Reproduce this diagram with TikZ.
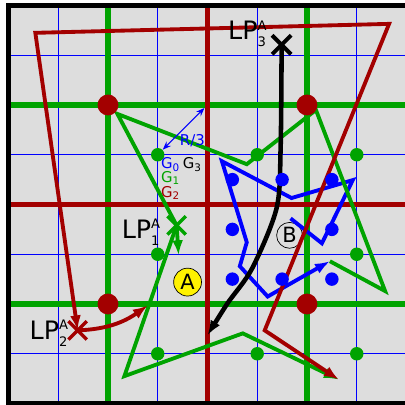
\documentclass[tikz,border=0pt]{standalone}
\usepackage{fontspec}
\setmainfont{DejaVu Sans}
\usetikzlibrary{arrows.meta}
\usetikzlibrary{shapes.misc}
\usetikzlibrary{positioning}
\usetikzlibrary{calc}
\definecolor{bggray}{RGB}{221,221,221}
\definecolor{lvlgreen}{RGB}{0,163,0}
\definecolor{lvlred}{RGB}{163,0,0}
\newcommand{\lpname}[1]{LP\rlap{\raisebox{5.4pt}{\fontsize{7.5}{7.5}\selectfont A}}\raisebox{-4pt}{\fontsize{7.5}{7.5}\selectfont #1}}
\tikzset{
    traj/.style={
        line width=2.2pt,
        >={Latex[length=3mm,width=2.2mm]}
    },
    mark_x/.style={
        cross out,
        draw,
        line width=2pt,
        minimum size=0.3cm,
        inner sep=0pt
    }
}

\begin{document}
\begin{tikzpicture}[
    grid_zero/.style={blue, line width=0.6pt},
    grid_one/.style={lvlgreen, line width=2.9pt},
    grid_two/.style={lvlred, line width=2.6pt},
    grid_three/.style={black, line width=2.9pt},
    dot_red/.style={circle, fill=lvlred, inner sep=0pt, minimum size=0.42cm},
    dot_green/.style={circle, fill=lvlgreen, inner sep=0pt, minimum size=0.27cm},
    dot_blue/.style={circle, fill=blue, inner sep=0pt, minimum size=0.27cm},
    lp_text/.style={anchor=base west, inner sep=0pt, font=\fontsize{14.5}{15}\selectfont},
    g_text/.style={anchor=base west, inner sep=0pt, font=\fontsize{8.5}{9}\selectfont}
]
    \useasboundingbox (-0.17,-0.03) rectangle (7.97,8.11);

    % Background and grids
    \fill[bggray] (0,0) rectangle (8,8);
    \foreach \i in {1,...,7} {
        \draw[grid_zero] (\i,0) -- (\i,8);
        \draw[grid_zero] (0,\i) -- (8,\i);
    }
    \foreach \i in {2,4,6} {
        \draw[grid_one] (\i,0) -- (\i,8);
        \draw[grid_one] (0,\i) -- (8,\i);
    }
    \draw[grid_two] (4,0) -- (4,8);
    \draw[grid_two] (0,4) -- (8,4);
    \draw[grid_three] (8,8) -- (0,8) -- (0,0) -- (8,0);

    % Labels of the particles
    \node (A) [circle, draw, fill=yellow, minimum size=0.56cm, inner sep=0pt,
        font=\fontsize{12}{12}\selectfont] at (3.6,2.44) {A};
    \node (B) [circle, draw, minimum size=0.52cm, inner sep=0pt,
        font=\fontsize{12}{12}\selectfont] at (5.65,3.38) {B};

    % Markers
    \node (LP1) [mark_x, draw=lvlgreen] at (3.38,3.58) {};
    \node (LP2) [mark_x, draw=lvlred] at (1.39,1.47) {};
    \node (LP3) [mark_x, draw=black, line width=2.3pt] at (5.49,7.21) {};

    % Blue path
    \coordinate (b1) at (5.67,3.72);
    \coordinate (b2) at (6.30,3.22);
    \coordinate (b3) at (6.92,4.49);
    \coordinate (b4) at (5.69,4.13);
    \coordinate (b5) at (4.29,4.87);
    \coordinate (b6) at (4.79,3.24);
    \coordinate (b7) at (4.65,2.76);
    \coordinate (b8) at (5.21,2.15);
    \coordinate (b9) at (6.46,2.86);
    \draw[traj, blue, ->] (b1) -- (b2) -- (b3) -- (b4) -- (b5) -- (b6) -- (b7) -- (b8) -- (b9);

    % Green path
    \coordinate (g2) at (7.57,2.26);
    \coordinate (g3) at (6.18,5.90);
    \coordinate (g4) at (4.79,4.81);
    \coordinate (g5) at (2.19,5.82);
    \coordinate (g6) at (2.33,0.55);
    \coordinate (g7) at (4.71,1.41);
    \coordinate (end) at (6.64,0.48);
    \coordinate (g_down) at (3.42,2.98);
    \draw[traj, lvlgreen, ->] (b9) -- (g2) -- (g3) -- (g4) -- (g5) -- (LP1.center) -- (g6) -- (g7) -- (end);
    \draw[traj, lvlgreen, ->] (LP1.center) -- (g_down);

    % Red path
    \coordinate (r1) at (0.54,7.45);
    \coordinate (r2) at (7.65,7.63);
    \coordinate (r3) at (5.15,1.47);
    \coordinate (r_tip) at (2.80,1.97);
    \draw[traj, lvlred, <->] (end) -- (r3) -- (r2) -- (r1) -- (LP2.center);
    \draw[traj, lvlred, ->] (LP2.center) to[out=2, in=215] (r_tip);

    % Black path
    \coordinate (k1) at (5.47,5.13);
    \coordinate (k2) at (5.39,3.93);
    \coordinate (k3) at (4.90,2.72);
    \coordinate (k4) at (4.40,2.01);
    \coordinate (k5) at (4.00,1.37);
    \draw[traj, black, line width=2.6pt, ->] plot[smooth] coordinates {(LP3.center) (k1) (k2) (k3) (k4) (k5)};

    % Cell centres
    \foreach \x/\y in {2/2, 6/2, 2/6, 6/6}
        \node (c2-\x-\y) [dot_red] at (\x,\y) {};
    \foreach \x/\y in {3/5, 5/5, 7/5, 3/3, 7/3, 3/1, 5/1, 7/1}
        \node (c1-\x-\y) [dot_green] at (\x,\y) {};
    \foreach \x/\y in {4.5/4.5, 5.5/4.5, 6.5/4.5, 4.5/3.5, 6.5/3.5, 4.5/2.5, 5.5/2.5, 6.5/2.5}
        \node (c0-\x-\y) [dot_blue] at (\x,\y) {};

    % Radius
    \coordinate (corner) at (4,6);
    \draw[blue, line width=0.6pt, {Stealth[length=1.7mm]}-{Stealth[length=1.7mm]}]
        (c1-3-5) -- ($(corner)!0.06!(c1-3-5)$);
    \node (radius) [g_text, text=blue] at (3.44,5.19) {R/3};

    % Grid names
    \node (G0) [g_text, text=blue] at (3.06,4.73) {G\textsubscript{0}};
    \node (G3) [g_text, text=black] at (3.5,4.73) {G\textsubscript{3}};
    \node (G1) [g_text, text=lvlgreen] at (3.06,4.45) {G\textsubscript{1}};
    \node (G2) [g_text, text=lvlred] at (3.06,4.15) {G\textsubscript{2}};

    % Particle names
    \node (name1) [lp_text] at (2.27,3.32) {\lpname{1}};
    \node (name2) [lp_text] at (0.42,1.29) {\lpname{2}};
    \node (name3) [lp_text] at (4.41,7.31) {\lpname{3}};

\end{tikzpicture}
\end{document}
